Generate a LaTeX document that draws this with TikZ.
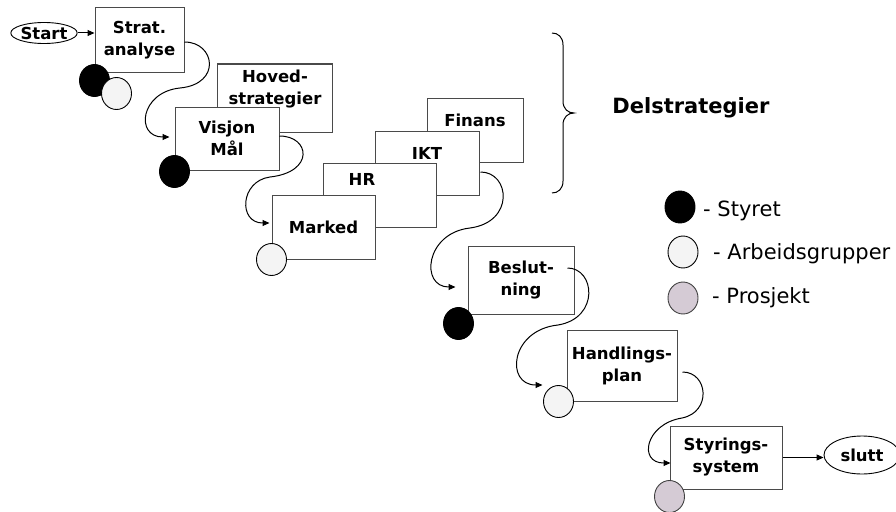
\documentclass[tikz,border=0pt]{standalone}
\usepackage{fontspec}
\setmainfont{DejaVu Sans}
\usetikzlibrary{shapes.geometric,arrows.meta,calc}

\definecolor{boxline}{HTML}{4A4A4A}
\definecolor{paleball}{HTML}{F4F4F4}
\definecolor{mauve}{HTML}{D5CBD5}

\tikzset{
  stagebox/.style={draw=boxline, line width=1pt, fill=white, inner sep=0pt,
    font=\bfseries\fontsize{16.5}{22}\selectfont, align=center},
  stagetext/.style={font=\bfseries\fontsize{16.5}{22}\selectfont, align=center, inner sep=0pt},
  terminal/.style={ellipse, draw=black, line width=0.9pt, fill=white, inner sep=0pt,
    font=\bfseries\fontsize{16.5}{22}\selectfont},
  dot/.style={ellipse, draw=black, line width=0.9pt, minimum width=30pt,
    minimum height=32pt, inner sep=0pt},
  board/.style={dot, fill=black},
  group/.style={dot, fill=paleball},
  project/.style={dot, fill=mauve, draw=black!75},
  flow/.style={-{Triangle[length=7pt,width=6pt]}, line width=1pt},
  legendtext/.style={font=\fontsize{21}{24}\selectfont, anchor=west, inner sep=0pt},
  headline/.style={font=\bfseries\fontsize{21}{24}\selectfont, inner sep=0pt}
}

\begin{document}
\begin{tikzpicture}[x=1pt, y=-1pt]
\useasboundingbox (0,0) rectangle (896,511);

% terminals
\node[terminal, minimum width=66pt, minimum height=21pt] (start) at (44,33) {Start};

% process stages
\node[stagebox, minimum width=89pt, minimum height=64pt] (strat) at (139.5,40) {Strat.\\analyse};

\node[stagebox, minimum width=115pt, minimum height=68pt] (hoved) at (274.5,98) {};
\node[stagetext] (hovedtxt) at (275,89) {Hoved-\\strategier};
\node[stagebox, minimum width=104pt, minimum height=63pt] (visjon) at (227,138.5) {Visjon\\Mål};

% stacked sub-strategies, back to front
\node[stagebox, minimum width=96pt, minimum height=64pt] (finans) at (475,130) {};
\node[stagetext] (finanstxt) at (475,120) {Finans};
\node[stagebox, minimum width=104pt, minimum height=64pt] (ikt) at (427,163) {};
\node[stagetext] (ikttxt) at (427,153) {IKT};
\node[stagebox, minimum width=113pt, minimum height=64pt] (hr) at (379.5,195) {};
\node[stagetext] (hrtxt) at (362,179) {HR};
\node[stagebox, minimum width=103pt, minimum height=64pt] (marked) at (323.5,227) {Marked};

\node[stagebox, minimum width=106pt, minimum height=68pt] (beslutning) at (521,280) {Beslut-\\ning};
\node[stagebox, minimum width=110pt, minimum height=71pt] (handlings) at (622,365.5) {Handlings-\\plan};
\node[stagebox, minimum width=112pt, minimum height=63pt] (styrings) at (726,457.5) {Styrings-\\system};

\node[terminal, minimum width=76pt, minimum height=38pt] (slutt) at (862,455) {slutt};

% who is responsible for each stage
\node[board] (stratboard) at ($(strat.south west)+(0,8)$) {};
\node[group] (stratgroup) at ($(strat.south west)+(22,21)$) {};
\node[board] (visjonboard) at ($(visjon.south west)+(0,1)$) {};
\node[group] (markedgroup) at (marked.south west) {};
\node[board] (beslutningboard) at ($(beslutning.south west)+(-9,9)$) {};
\node[group] (handlingsgroup) at ($(handlings.south west)+(-8,0)$) {};
\node[project] (styringsproject) at ($(styrings.south west)+(0,7)$) {};

% flow between stages
\draw[flow] (start.east) -- (start.east -| strat.west);
\draw[flow] ($(strat.east)+(0,2)$) .. controls (215,42) and (222,84) .. (180,88)
  .. controls (140,92) and (135,137) .. ($(visjon.west)+(-5,-1.5)$);
\draw[flow] ($(visjon.east)+(0,-2.5)$) .. controls (310,136) and (315,172) .. (270,177)
  .. controls (240,181) and (238,223) .. ($(marked.west)+(-2,-4)$);
\draw[flow] ($(ikt.east)+(1,9)$) .. controls (510,172) and (515,222) .. (470,228)
  .. controls (425,233) and (420,287) .. ($(beslutning.west)+(-12,7)$);
\draw[flow] ($(beslutning.east)+(-7,-12)$) .. controls (595,268) and (600,318) .. (558,325)
  .. controls (510,330) and (505,385) .. ($(handlings.west)+(-24,19.5)$);
\draw[flow] ($(handlings.east)+(5,6.5)$) .. controls (708,372) and (712,412) .. (682,418)
  .. controls (645,424) and (638,463) .. ($(styrings.west)+(1,5.5)$);
\draw[flow] (styrings.east) -- (styrings.east -| slutt.west);

% brace over the sub-strategies
\draw[line width=1pt] (552,33) .. controls (558,33) and (563,37) .. (563,45) -- (563,101)
  .. controls (563,109) and (568,113) .. (574,113)
  .. controls (568,113) and (563,117) .. (563,125) -- (563,181)
  .. controls (563,189) and (558,193) .. (552,193);
\node[headline] (delstrat) at (691,108) {Delstrategier};

% legend
\node[board] (keyboard) at (680,207) {};
\node[legendtext] (keyboardtxt) at (703,211) {- Styret};
\node[group] (keygroup) at (683,252) {};
\node[legendtext] (keygrouptxt) at (713,254) {- Arbeidsgrupper};
\node[project] (keyproject) at (683,298) {};
\node[legendtext] (keyprojecttxt) at (712,298) {- Prosjekt};
\end{tikzpicture}
\end{document}
